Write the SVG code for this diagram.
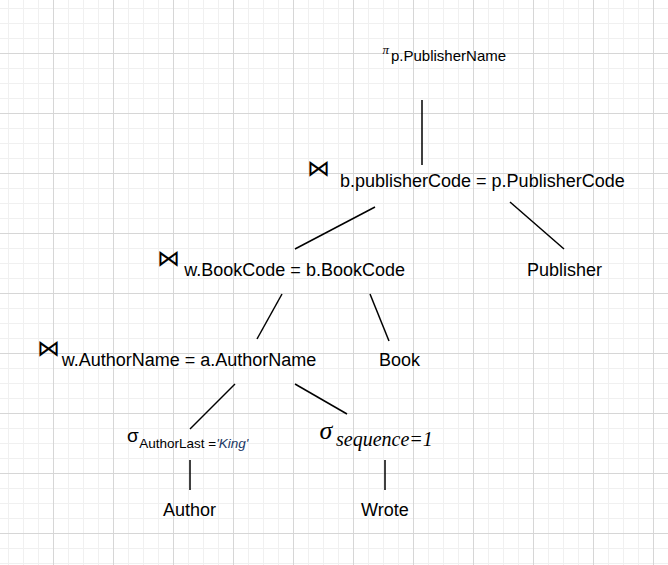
<svg xmlns="http://www.w3.org/2000/svg" width="668" height="565" viewBox="0 0 668 565">
<defs>
<pattern id="grid" patternUnits="userSpaceOnUse" x="-7" y="-7" width="60" height="60">
<path d="M15.5 0V60M30.5 0V60M45.5 0V60M0 15.5H60M0 30.5H60M0 45.5H60" stroke="#f0f0f0" stroke-width="1" fill="none"/>
<path d="M0.5 0V60M0 0.5H60" stroke="#d6d6d6" stroke-width="1" fill="none"/>
</pattern>
<style>
.t{font-family:"Liberation Sans",Arial,sans-serif;font-size:18px;fill:#000}
.sub{font-family:"Liberation Sans",Arial,sans-serif;fill:#000}
.bt{font-family:"DejaVu Sans",sans-serif;font-size:23px;font-weight:200;fill:#000}
.ser{font-family:"Liberation Serif","Times New Roman",serif;font-style:italic;fill:#000}
.c line{stroke:#000;stroke-width:1.5;fill:none}
</style>
</defs>
<rect width="668" height="565" fill="#ffffff"/>
<rect width="668" height="565" fill="url(#grid)"/>
<g id="connectors" class="c">
<line x1="422" y1="100" x2="422" y2="165"/>
<line x1="375" y1="207" x2="295" y2="249"/>
<line x1="510" y1="202" x2="564" y2="249"/>
<line x1="282" y1="294" x2="257" y2="339"/>
<line x1="370" y1="294" x2="389" y2="341"/>
<line x1="235" y1="384" x2="190" y2="429"/>
<line x1="295" y1="384" x2="347" y2="414"/>
<line x1="190" y1="460" x2="190" y2="490"/>
<line x1="385" y1="460" x2="385" y2="490"/>
</g>
<g id="node-project">
<text class="ser" x="382.5" y="54" font-size="13">π</text>
<text class="sub" x="391" y="60.7" font-size="15">p.PublisherName</text>
</g>
<g id="node-join1">
<text class="bt" x="307" y="175.5">⋈</text>
<text class="t" x="340" y="187">b.publisherCode = p.PublisherCode</text>
</g>
<g id="node-join2">
<text class="bt" x="157" y="266">⋈</text>
<text class="t" x="184.3" y="276">w.BookCode = b.BookCode</text>
</g>
<g id="node-publisher">
<text class="t" x="527" y="276">Publisher</text>
</g>
<g id="node-join3">
<text class="bt" x="37" y="356">⋈</text>
<text class="t" x="61.7" y="366">w.AuthorName = a.AuthorName</text>
</g>
<g id="node-book">
<text class="t" x="379" y="366">Book</text>
</g>
<g id="node-select-author">
<text class="sub" x="127" y="442" font-size="19">σ</text>
<text class="sub" x="139.3" y="448.3" font-size="13.5">AuthorLast =<tspan font-style="italic" fill="#203864">'King'</tspan></text>
</g>
<g id="node-select-sequence">
<text class="ser" x="319.5" y="438.5" font-size="26" font-style="normal">σ</text>
<text class="ser" x="336" y="445.5" font-size="20">sequence=1</text>
</g>
<g id="node-author">
<text class="t" x="163" y="516">Author</text>
</g>
<g id="node-wrote">
<text class="t" x="361" y="516">Wrote</text>
</g>
</svg>
